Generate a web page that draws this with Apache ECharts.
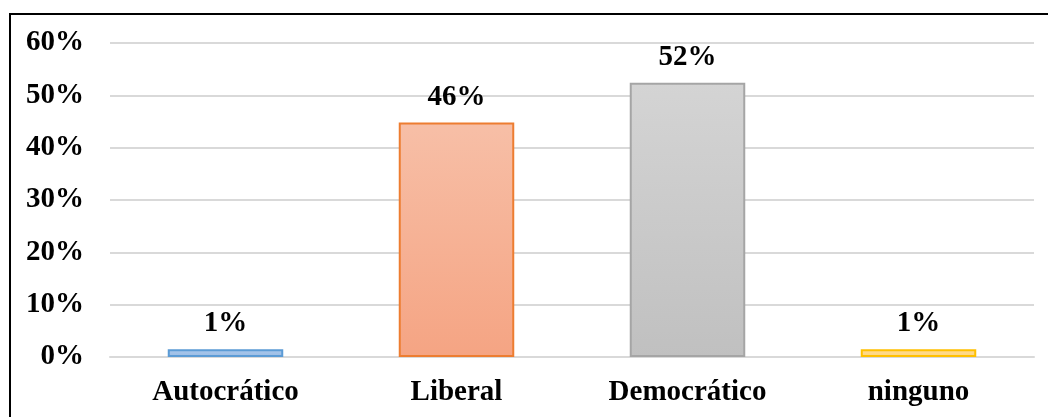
<!DOCTYPE html>
<html>
<head>
<meta charset="utf-8">
<script src="https://cdn.jsdelivr.net/npm/echarts@6/dist/echarts.min.js"></script>
<style>
html,body{margin:0;padding:0;background:#fff;}
#c{width:1048px;height:417px;}
</style>
</head>
<body>
<div id="c"></div>
<script>
var categories = ['Autocrático', 'Liberal', 'Democrático', 'ninguno'];
var values = [1.5, 44.8, 52.4, 1.5];
var valueLabels = ['1%', '46%', '52%', '1%'];
var yTicks = [0, 10, 20, 30, 40, 50, 60];

var fills = [
  ['#a9c8ec', '#9bbce4', '#5b9bd5'],
  ['#f7bfa7', '#f5a483', '#ed7d31'],
  ['#d4d4d4', '#c0c0c0', '#a5a5a5'],
  ['#ffdc90', '#ffd680', '#ffc000']
];

var font = '"Liberation Serif", "Times New Roman", serif';

var chart = echarts.init(document.getElementById('c'));
chart.setOption({
  animation: false,
  graphic: [{
    type: 'rect',
    shape: {x: 10, y: 14, width: 1200, height: 600},
    style: {fill: 'none', stroke: '#000', lineWidth: 2},
    silent: true
  }],
  grid: {left: 110, right: 14, top: 43, bottom: 60},
  xAxis: {
    type: 'category',
    data: categories,
    axisLine: {show: true, lineStyle: {color: '#d9d9d9', width: 2}},
    axisTick: {show: false},
    axisLabel: {
      color: '#000', fontFamily: font, fontWeight: 'bold', fontSize: 29, margin: 21
    }
  },
  yAxis: {
    type: 'value',
    min: yTicks[0],
    max: yTicks[yTicks.length - 1],
    interval: 10,
    axisLine: {show: false},
    axisTick: {show: false},
    splitLine: {lineStyle: {color: '#d9d9d9', width: 2}},
    axisLabel: {
      color: '#000', fontFamily: font, fontWeight: 'bold', fontSize: 29, margin: 26,
      formatter: function (v) { return v + '%'; }
    }
  },
  series: [{
    type: 'bar',
    barWidth: '50%',
    data: values.map(function (v, i) {
      return {
        value: v,
        itemStyle: {
          color: new echarts.graphic.LinearGradient(0, 0, 0, 1, [
            {offset: 0, color: fills[i][0]},
            {offset: 1, color: fills[i][1]}
          ]),
          borderColor: fills[i][2],
          borderWidth: 2
        }
      };
    }),
    label: {
      show: true,
      position: 'top',
      distance: 11,
      color: '#000',
      fontFamily: font,
      fontWeight: 'bold',
      fontSize: 29,
      formatter: function (p) { return valueLabels[p.dataIndex]; }
    }
  }]
});
</script>
</body>
</html>
